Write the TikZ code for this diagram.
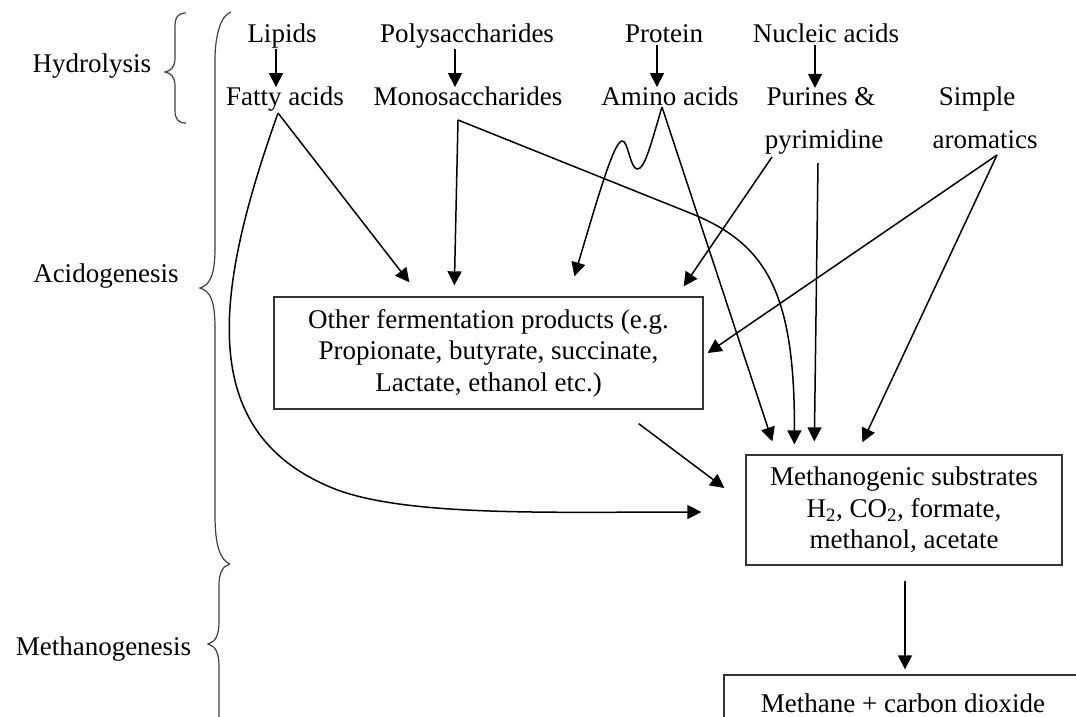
\documentclass[tikz,border=0pt]{standalone}
\usepackage{fontspec}
\setmainfont{Liberation Serif}
\usetikzlibrary{arrows.meta,calc}
\begin{document}
\begin{tikzpicture}[x=1pt,y=-1pt,
  lbl/.style={font=\fontsize{27}{31.5}\selectfont, inner sep=0pt, anchor=base},
  boxn/.style={draw=black!80, line width=1.3pt, font=\fontsize{27}{31.5}\selectfont, align=center, inner sep=0pt},
  arr/.style={line width=1.5pt, -{Triangle[length=14pt,width=14pt]}},
  brace/.style={draw=black!75, line width=1.2pt}
]
\useasboundingbox (0,0) rectangle (1076,716);
\clip (0,0) rectangle (1076,716);

% stage labels
\node[lbl] (hyd) at (92,72) {Hydrolysis};
\node[lbl] (acid) at (106,282) {Acidogenesis};
\node[lbl] (meth) at (103.5,655) {Methanogenesis};

% braces
\draw[brace] (186,13) .. controls (178,13) and (175,17) .. (175,27) -- (175,58)
  .. controls (175,67) and (171,71) .. (165,72) .. controls (171,73) and (175,77) .. (175,86)
  -- (175,110) .. controls (175,119) and (178,123) .. (186,123);
\draw[brace] (231,12) .. controls (221,15) and (215,35) .. (215,60) -- (215,248)
  .. controls (215,275) and (210,285) .. (200,288) .. controls (210,291) and (215,300) .. (215,328)
  -- (215,515) .. controls (215,545) and (220,560) .. (230,564);
\draw[brace] (230,564) .. controls (223,566) and (219,572) .. (219,585) -- (219,622)
  .. controls (219,636) and (215,642) .. (208,644) .. controls (215,646) and (219,652) .. (219,666)
  -- (219,720);

% substrates
\node[lbl] (lipids) at (282,42) {Lipids};
\node[lbl] (poly) at (467,42) {Polysaccharides};
\node[lbl] (protein) at (664,42) {Protein};
\node[lbl] (nucleic) at (826,42) {Nucleic acids};
\node[lbl] (fatty) at (285,105) {Fatty acids};
\node[lbl] (mono) at (468,105) {Monosaccharides};
\node[lbl] (amino) at (670,105) {Amino acids};
\node[lbl] (purines) at (821,105) {Purines \&};
\node[lbl] (pyrim) at (824,148) {pyrimidine};
\node[lbl] (simple) at (977,105) {Simple};
\node[lbl] (arom) at (985,148) {aromatics};

% boxes
\node[boxn, minimum width=429pt, minimum height=112pt] (box1) at (488.5,353)
  {Other fermentation products (e.g.\\ Propionate, butyrate, succinate,\\ Lactate, ethanol etc.)};
\node[boxn, minimum width=316pt, minimum height=110pt] (box2) at (904,510)
  {Methanogenic substrates\\ H\textsubscript{2}, CO\textsubscript{2}, formate,\\ methanol, acetate};
\node[boxn, minimum width=358pt, minimum height=56pt] (box3) at (903,703)
  {Methane + carbon dioxide};

% outlets
\coordinate (faO) at (278,113);
\coordinate (moO) at (458,120);
\coordinate (amO) at (662,107);
\coordinate (pyO) at (772,157);
\coordinate (pyV) at (818,163);
\coordinate (arO) at (997,155);

% hydrolysis arrows
\draw[arr] ([xshift=-6pt,yshift=-1pt]lipids.south) -- ([xshift=-9pt,yshift=-1pt]fatty.north);
\draw[arr] ([xshift=-12pt,yshift=-1pt]poly.south) -- ([xshift=-13pt,yshift=-1pt]mono.north);
\draw[arr] ([xshift=-7pt,yshift=-3pt]protein.south) -- ([xshift=-13pt,yshift=-1pt]amino.north);
\draw[arr] ([xshift=-11pt,yshift=-3pt]nucleic.south) -- ([xshift=-6pt,yshift=-1pt]purines.north);

% acidogenesis connectors
\draw[arr] (faO) -- ($(box1.north west)+(136,-14)$);
\draw[arr] (faO) .. controls (215,290) and (195,430) .. (330,487)
  .. controls (400,517) and (550,512) .. ($(box2.west)+(-44,2)$);
\draw[arr] (moO) -- ($(box1.north west)+(181,-11)$);
\draw[arr] (moO) -- (690,213) .. controls (765,243) and (795,290) .. ($(box2.north west)+(49,-10)$);
\draw[arr] (amO) .. controls (652,140) and (645,170) .. (637,169)
  .. controls (630,168) and (628,140) .. (622,141)
  .. controls (614,142) and (600,190) .. ($(box1.north west)+(301,-20)$);
\draw[arr] (amO) -- ($(box2.north west)+(27,-13)$);
\draw[arr] (pyO) -- ($(box1.north east)+(-20,-10)$);
\draw[arr] (pyV) -- ($(box2.north west)+(69,-13)$);
\draw[arr] (arO) -- ($(box1.east)+(4,0)$);
\draw[arr] (arO) -- ($(box2.north west)+(117,-12)$);
\draw[arr] ($(box1.south east)+(-65,14)$) -- ($(box2.west)+(-21,-22)$);

% methanogenesis
\draw[arr] ($(box2.south)+(1,15)$) -- ($(box3.north)+(2,-5)$);
\end{tikzpicture}
\end{document}
